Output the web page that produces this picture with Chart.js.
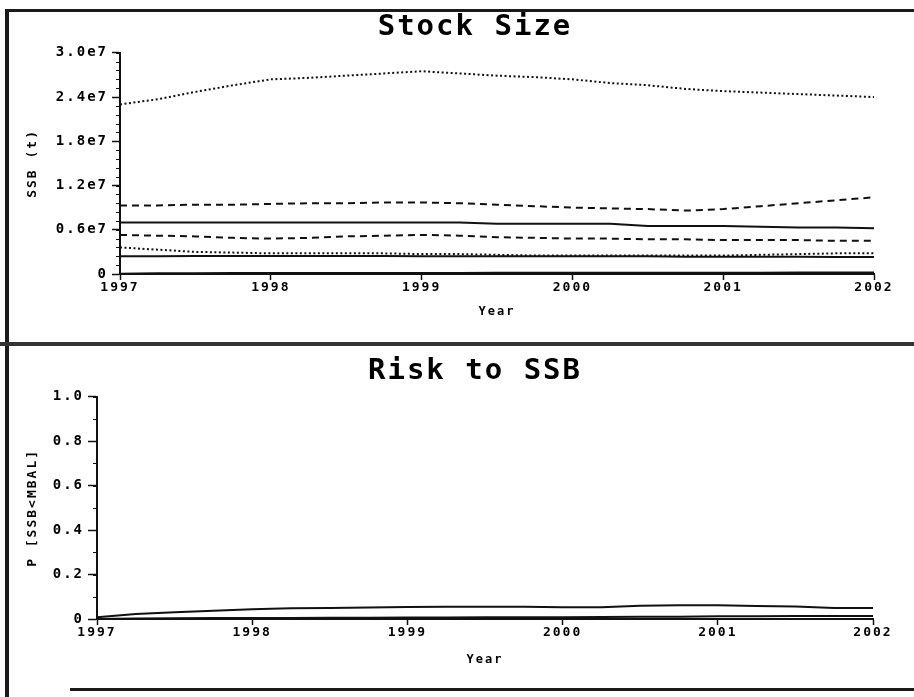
<!DOCTYPE html>
<html lang="en">
<head>
    <meta charset="UTF-8">
    <title>Stock Size / Risk to SSB</title>
    <script src="https://cdn.jsdelivr.net/npm/chart.js"></script>
    <style>
        body {
            margin: 0;
            padding: 0;
            background: #fff;
            width: 914px;
            height: 697px;
            overflow: hidden;
            position: relative;
        }

        canvas {
            position: absolute;
            left: 0;
        }

        #stockChart { top: 0; }
        #riskChart { top: 344px; }

        .rule {
            position: absolute;
            background: #1a1a1a;
            z-index: 2;
        }
    </style>
</head>
<body>
    <!-- frame lines of the old printout -->
    <div class="rule" style="left:5px; top:9px; width:909px; height:3px;"></div>
    <div class="rule" style="left:5px; top:9px; width:4px; height:688px;"></div>
    <div class="rule" style="left:0; top:342px; width:914px; height:4px; background:#333;"></div>
    <div class="rule" style="left:70px; top:688px; width:844px; height:3px;"></div>

    <canvas id="stockChart" width="950" height="340"></canvas>
    <canvas id="riskChart" width="950" height="346"></canvas>

    <script>
        // time axis (quarter years)
        const years = [1997, 1997.25, 1997.5, 1997.75, 1998, 1998.25, 1998.5, 1998.75, 1999, 1999.25, 1999.5,
                       1999.75, 2000, 2000.25, 2000.5, 2000.75, 2001, 2001.25, 2001.5, 2001.75, 2002];
        const yearTicks = [1997, 1998, 1999, 2000, 2001, 2002];

        // SSB (t) percentiles
        const ssbUpperDotted = [2.30e7, 2.37e7, 2.47e7, 2.56e7, 2.64e7, 2.66e7, 2.69e7, 2.72e7, 2.75e7, 2.72e7, 2.69e7,
                                2.67e7, 2.64e7, 2.59e7, 2.56e7, 2.51e7, 2.48e7, 2.46e7, 2.44e7, 2.42e7, 2.40e7];
        const ssbUpperDashed = [0.93e7, 0.93e7, 0.94e7, 0.94e7, 0.95e7, 0.96e7, 0.96e7, 0.97e7, 0.97e7, 0.96e7, 0.94e7,
                                0.92e7, 0.90e7, 0.89e7, 0.88e7, 0.86e7, 0.88e7, 0.92e7, 0.96e7, 1.00e7, 1.04e7];
        const ssbMedian      = [0.70e7, 0.70e7, 0.70e7, 0.70e7, 0.70e7, 0.70e7, 0.70e7, 0.70e7, 0.70e7, 0.70e7, 0.68e7,
                                0.68e7, 0.68e7, 0.68e7, 0.65e7, 0.65e7, 0.65e7, 0.64e7, 0.63e7, 0.63e7, 0.62e7];
        const ssbLowerDashed = [0.53e7, 0.52e7, 0.51e7, 0.49e7, 0.48e7, 0.49e7, 0.51e7, 0.52e7, 0.53e7, 0.52e7, 0.50e7,
                                0.49e7, 0.48e7, 0.48e7, 0.47e7, 0.47e7, 0.46e7, 0.46e7, 0.46e7, 0.45e7, 0.45e7];
        const ssbLowerDotted = [0.36e7, 0.33e7, 0.30e7, 0.29e7, 0.28e7, 0.28e7, 0.28e7, 0.28e7, 0.27e7, 0.27e7, 0.26e7,
                                0.25e7, 0.25e7, 0.25e7, 0.25e7, 0.25e7, 0.25e7, 0.26e7, 0.27e7, 0.28e7, 0.28e7];
        const ssbLowerSolid  = [0.24e7, 0.24e7, 0.245e7, 0.245e7, 0.245e7, 0.245e7, 0.245e7, 0.245e7, 0.24e7, 0.24e7, 0.24e7,
                                0.24e7, 0.24e7, 0.24e7, 0.24e7, 0.235e7, 0.235e7, 0.235e7, 0.235e7, 0.23e7, 0.23e7];
        const ssbMinimum     = [0.005e7, 0.01e7, 0.01e7, 0.012e7, 0.012e7, 0.013e7, 0.014e7, 0.015e7, 0.015e7, 0.015e7, 0.016e7,
                                0.016e7, 0.017e7, 0.017e7, 0.017e7, 0.018e7, 0.018e7, 0.018e7, 0.019e7, 0.019e7, 0.02e7];
        const ssbTicks = [0, 0.6e7, 1.2e7, 1.8e7, 2.4e7, 3.0e7];

        // P[SSB<MBAL]
        const riskUpper = [0.008, 0.022, 0.030, 0.037, 0.044, 0.048, 0.050, 0.052, 0.054, 0.055, 0.055,
                           0.055, 0.053, 0.053, 0.060, 0.062, 0.062, 0.058, 0.056, 0.050, 0.049];
        const riskLower = [0.0, 0.002, 0.003, 0.004, 0.005, 0.005, 0.006, 0.006, 0.007, 0.007, 0.008,
                           0.008, 0.008, 0.009, 0.010, 0.010, 0.012, 0.012, 0.013, 0.013, 0.014];
        const riskTicks = [0, 0.2, 0.4, 0.6, 0.8, 1.0];

        const MONO = "'DejaVu Sans Mono', 'Liberation Mono', monospace";
        const INK = '#111';

        function points(ys) {
            return years.map((x, i) => ({ x: x, y: ys[i] }));
        }

        function series(ys, dash) {
            return {
                data: points(ys),
                borderColor: INK,
                borderWidth: 2,
                borderDash: dash,
                pointRadius: 0,
                tension: 0,
                fill: false
            };
        }

        // wide bitmap-ish lettering + small minor ticks on the value axis
        const printLook = {
            id: 'printLook',
            beforeDraw(chart) {
                chart.ctx.letterSpacing = '2px';
            },
            afterDraw(chart, args, opts) {
                const y = chart.scales.y;
                const ctx = chart.ctx;
                const left = chart.chartArea.left;
                ctx.save();
                ctx.strokeStyle = INK;
                ctx.lineWidth = 1;
                for (let v = y.min; v <= y.max + opts.step / 2; v += opts.step) {
                    const py = Math.round(y.getPixelForValue(v)) + 0.5;
                    ctx.beginPath();
                    ctx.moveTo(left - opts.len, py);
                    ctx.lineTo(left, py);
                    ctx.stroke();
                }
                ctx.restore();
            }
        };

        function makeOptions(cfg) {
            return {
                responsive: false,
                animation: false,
                devicePixelRatio: 1,
                layout: { padding: { left: 0, right: 0, top: 0, bottom: cfg.padBottom } },
                plugins: {
                    legend: { display: false },
                    tooltip: { enabled: false },
                    title: {
                        display: true,
                        text: cfg.title,
                        color: '#000',
                        font: { family: MONO, size: 29, weight: 'bold' },
                        padding: { top: 10, bottom: 8 }
                    },
                    printLook: { step: cfg.minorStep, len: 4 }
                },
                scales: {
                    x: {
                        type: 'linear',
                        min: 1997,
                        max: 2002,
                        afterBuildTicks: s => { s.ticks = yearTicks.map(v => ({ value: v })); },
                        afterFit: s => { s.height = 50; },
                        ticks: {
                            color: '#000',
                            padding: 0,
                            maxRotation: 0,
                            font: { family: MONO, size: 13, weight: 'bold' },
                            callback: v => String(v)
                        },
                        grid: { drawOnChartArea: false, tickLength: 6, color: INK, tickWidth: 1.5 },
                        border: { color: INK, width: 2 },
                        title: {
                            display: true,
                            text: 'Year',
                            color: '#000',
                            font: { family: MONO, size: 12, weight: 'bold' },
                            padding: { top: 4, bottom: cfg.yearPad }
                        }
                    },
                    y: {
                        min: 0,
                        max: cfg.yMax,
                        afterBuildTicks: s => { s.ticks = cfg.yTicks.map(v => ({ value: v })); },
                        afterFit: s => { s.width = cfg.axisLeft; },
                        ticks: {
                            color: '#000',
                            padding: 4,
                            font: { family: MONO, size: 14, weight: 'bold' },
                            callback: cfg.fmt
                        },
                        grid: { drawOnChartArea: false, tickLength: cfg.tickLen, color: INK, tickWidth: 1.5 },
                        border: { color: INK, width: 2 },
                        title: {
                            display: true,
                            text: cfg.yTitle,
                            color: '#000',
                            font: { family: MONO, size: 13, weight: 'bold' },
                            padding: { top: 25, bottom: 0 }
                        }
                    },
                    // empty right box so the chart area ends where the printout's does
                    yr: {
                        position: 'right',
                        display: true,
                        ticks: { display: false },
                        grid: { display: false, drawTicks: false },
                        border: { display: false },
                        afterFit: s => { s.width = 950 - cfg.axisRight; }
                    }
                }
            };
        }

        new Chart(document.getElementById('stockChart'), {
            type: 'line',
            data: {
                datasets: [
                    series(ssbUpperDotted, [2, 2.5]),
                    series(ssbUpperDashed, [7, 5]),
                    series(ssbMedian, []),
                    series(ssbLowerDashed, [7, 5]),
                    series(ssbLowerDotted, [2, 2.5]),
                    series(ssbLowerSolid, []),
                    series(ssbMinimum, [])
                ]
            },
            options: makeOptions({
                title: 'Stock Size',
                yTitle: 'SSB (t)',
                yMax: 3.0e7,
                yTicks: ssbTicks,
                fmt: v => v === 0 ? '0' : (v / 1e7).toFixed(1) + 'e7',
                axisLeft: 120,
                axisRight: 874,
                tickLen: 8,
                minorStep: 0.12e7,
                padBottom: 16,
                yearPad: 5
            }),
            plugins: [printLook]
        });

        new Chart(document.getElementById('riskChart'), {
            type: 'line',
            data: {
                datasets: [
                    series(riskUpper, []),
                    series(riskLower, [])
                ]
            },
            options: makeOptions({
                title: 'Risk to SSB',
                yTitle: 'P [SSB<MBAL]',
                yMax: 1.0,
                yTicks: riskTicks,
                fmt: v => v === 0 ? '0' : v.toFixed(1),
                axisLeft: 97,
                axisRight: 873,
                tickLen: 9,
                minorStep: 0.1,
                padBottom: 21,
                yearPad: 2
            }),
            plugins: [printLook]
        });
    </script>
</body>
</html>
